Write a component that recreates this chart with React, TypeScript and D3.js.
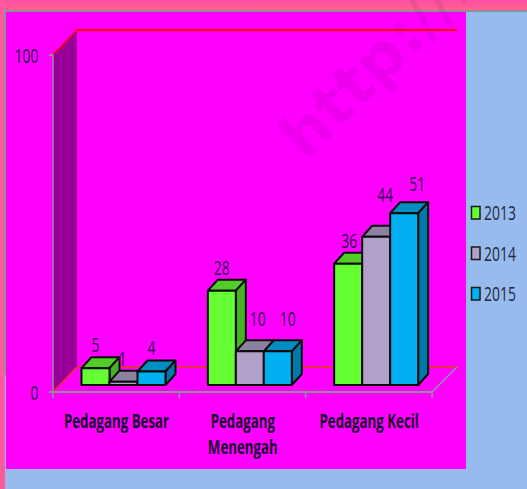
import React from "react";
import * as d3 from "d3";

const categories = ["Pedagang Besar", "Pedagang Menengah", "Pedagang Kecil"];
const categoryLines = [["Pedagang Besar"], ["Pedagang", "Menengah"], ["Pedagang Kecil"]];
const years = ["2013", "2014", "2015"];
const series2013 = [5, 28, 36];
const series2014 = [1, 10, 44];
const series2015 = [4, 10, 51];
const allSeries = [series2013, series2014, series2015];
const yTicks = [0, 100];
const front = ["#66FF33", "#B1A0C7", "#00B0F0"];
const top = ["#52CC29", "#8E80A0", "#008DC0"];
const side = ["#47B024", "#7A6E89", "#0079A6"];
// label nudges per series (rows) and category (columns), in px
const labelDx = [[0, 0, 1], [-1, 8, 9], [0, 10, 13]];
const labelDy = [[16, 16, 16], [16, 25, 35], [16.5, 25, 22]];

const FONT = "'Open Sans', 'Noto Sans', sans-serif";
const SX = 0.7;
const FS = 19;
const NUM_FS = 20.5;
const NUM_SX = 0.68;
const DX = 24, DY = 25;
const BAR_DX = 10, BAR_DY = 11;

export default function App() {
  const y = d3.scaleLinear().domain([0, 100]).range([392, 55]);
  const x0 = d3.scaleBand<string>().domain(categories).range([53, 432]);
  const x1 = d3.scaleBand<string>().domain(years).range([28.5, 112.5]);
  const barBase = 7;
  return (
    <svg width={527} height={489} style={{ position: "fixed", left: 0, top: 0 }}>
      <defs>
        <linearGradient id="band" x1="0" y1="0" x2="0" y2="1">
          <stop offset="0" stopColor="#FF4FA8" />
          <stop offset="1" stopColor="#FF6490" />
        </linearGradient>
      </defs>
      <rect width={527} height={489} fill="#97BBED" />
      <rect width={527} height={11} fill="url(#band)" />
      <rect y={0} width={5} height={489} fill="#FF5A9C" />
      <rect x={4} y={10} width={523} height={2} fill="#8F8F9F" />
      <rect x={4} y={10} width={2} height={365} fill="#8F8F9F" />
      <rect x={6} y={12} width={460} height={457} fill="#FF00FF" />
      <text transform="translate(306,162) rotate(-45)" fontFamily="'DejaVu Sans'" fontWeight="bold" fontSize={62} fill="#000" fillOpacity={0.07}>http://l</text>

      {/* side wall and floor */}
      <polygon points={`53,${y(100)} ${53 + DX},${y(100) - DY} ${53 + DX},${y(0) - DY} 53,${y(0)}`} fill="#990099" />
      <line x1={53 + DX} x2={457} y1={y(100) - DY} y2={y(100) - DY} stroke="#FF0000" strokeWidth={2} />
      <line x1={53} x2={53 + DX} y1={y(100)} y2={y(100) - DY} stroke="#FF0000" strokeWidth={1.5} />
      <line x1={53 + DX} x2={457} y1={y(0) - DY} y2={y(0) - DY} stroke="#E8304C" strokeWidth={2} />
      <line x1={53} x2={53 + DX} y1={y(0)} y2={y(0) - DY} stroke="#FF2A2A" strokeWidth={1.5} />
      <line x1={432} x2={457} y1={y(0)} y2={y(0) - DY} stroke="#8F8F9F" strokeWidth={1.5} />

      {/* axes */}
      <line x1={53} x2={53} y1={y(100)} y2={y(0)} stroke="#8F8F9F" strokeWidth={1.5} />
      <line x1={49} x2={432} y1={y(0)} y2={y(0)} stroke="#8F8F9F" strokeWidth={2} />
      {yTicks.map((t) => (
        <g key={t}>
          <line x1={49} x2={53} y1={y(t)} y2={y(t)} stroke="#8F8F9F" strokeWidth={2} />
          <text transform={`translate(38.5 ${y(t) + 8}) scale(${NUM_SX} 1)`} textAnchor="end" fontFamily={FONT} fontSize={NUM_FS} fill="#26004A">{t}</text>
        </g>
      ))}
      {[...categories.map((c) => x0(c)!), 432].map((px) => (
        <line key={px} x1={px} x2={px} y1={y(0)} y2={y(0) + 6} stroke="#8F8F9F" strokeWidth={1.5} />
      ))}

      {/* bars */}
      {categories.map((c, ci) => (
        <g key={c}>
          {years.map((yr, si) => {
            const v = allSeries[si][ci];
            const l = x0(c)! + x1(yr)!;
            const r = l + x1.bandwidth();
            const b = y(0) - barBase;
            const t = y(v) - barBase;
            return (
              <g key={yr} stroke="#0A0A0A" strokeWidth={2} strokeLinejoin="round">
                <polygon points={`${l},${t} ${l + BAR_DX},${t - BAR_DY} ${r + BAR_DX},${t - BAR_DY} ${r},${t}`} fill={top[si]} />
                <polygon points={`${r},${t} ${r + BAR_DX},${t - BAR_DY} ${r + BAR_DX},${b - BAR_DY} ${r},${b}`} fill={side[si]} />
                <rect x={l} y={t} width={r - l} height={b - t} fill={front[si]} />
              </g>
            );
          })}
          {years.map((yr, si) => {
            const v = allSeries[si][ci];
            const cx = x0(c)! + x1(yr)! + x1.bandwidth() / 2 + labelDx[si][ci];
            const ty = y(v) - barBase - labelDy[si][ci];
            return (
              <text key={yr} transform={`translate(${cx} ${ty}) scale(${NUM_SX} 1)`} textAnchor="middle" fontFamily={FONT} fontSize={NUM_FS} fill="#26004A">{v}</text>
            );
          })}
        </g>
      ))}

      {/* category labels */}
      {categories.map((c, ci) => (
        <g key={c}>
          {categoryLines[ci].map((ln, li) => (
            <text key={ln} transform={`translate(${x0(c)! + 63.5} ${428 + li * 26}) scale(${SX} 1)`} textAnchor="middle" fontFamily={FONT} fontWeight="bold" fontSize={FS} fill="#16002E">{ln}</text>
          ))}
        </g>
      ))}

      {/* legend */}
      {years.map((yr, si) => (
        <g key={yr}>
          <rect x={471.5} y={206.5 + si * 40.5} width={8.5} height={12.5} fill={front[si]} stroke="#1A1A1A" strokeWidth={1.5} />
          <text transform={`translate(484 ${220 + si * 40.5}) scale(${NUM_SX} 1)`} fontFamily={FONT} fontSize={NUM_FS} fill="#262640">{yr}</text>
        </g>
      ))}
    </svg>
  );
}
